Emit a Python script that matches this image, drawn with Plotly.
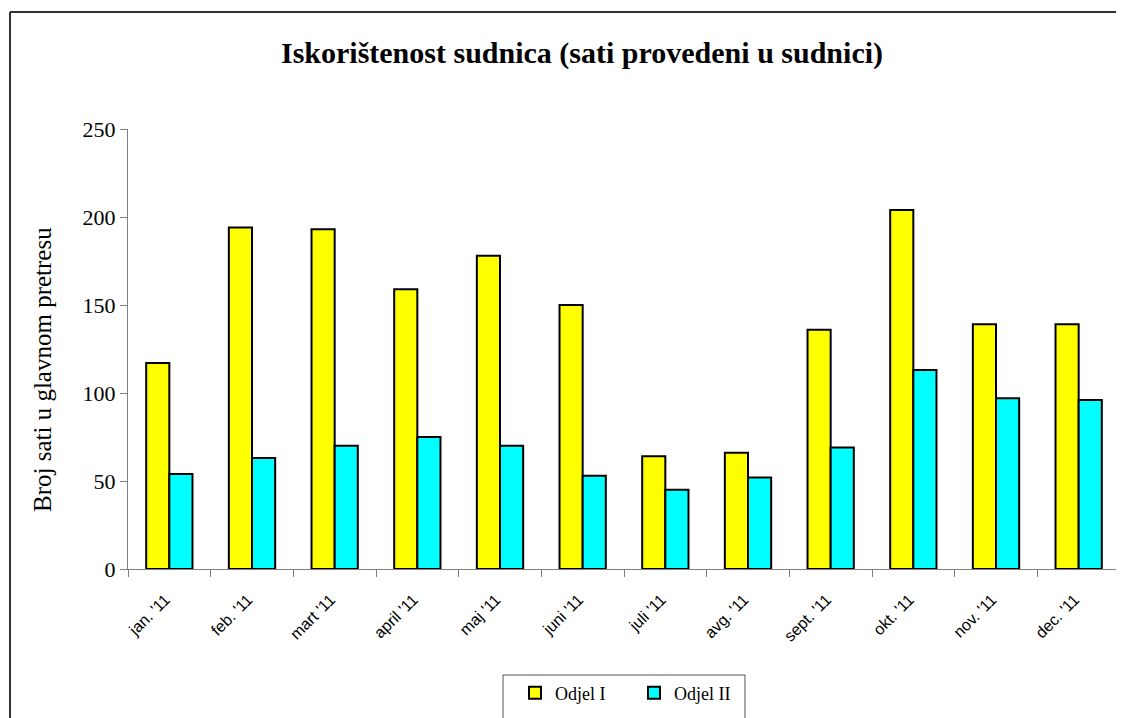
import plotly.graph_objects as go

months = ["jan. '11", "feb. '11", "mart '11", "april '11", "maj '11", "juni '11",
          "juli '11", "avg. '11", "sept. '11", "okt. '11", "nov. '11", "dec. '11"]
odjel_1 = [117, 194, 193, 159, 178, 150, 64, 66, 136, 204, 139, 139]
odjel_2 = [54, 63, 70, 75, 70, 53, 45, 52, 69, 113, 97, 96]
y_title = "Broj sati u glavnom pretresu"

OFF = 8  # page body margin
W, H = 1124 - OFF, 718 - OFF
L, R, T, B = 128 - OFF, 1120 - OFF, 129 - OFF, 569 - OFF
pw, ph = R - L, B - T


def px(x):
    return (x - OFF - L) / pw


def py(y):
    return (B - (y - OFF)) / ph


fig = go.Figure()
fig.add_trace(go.Bar(x=months, y=odjel_1, name="Odjel I",
                     marker=dict(color="#FFFF00", line=dict(color="black", width=2))))
fig.add_trace(go.Bar(x=months, y=odjel_2, name="Odjel II",
                     marker=dict(color="#00FFFF", line=dict(color="black", width=2))))

fig.update_layout(
    width=W, height=H,
    margin=dict(l=L, r=W - R, t=T, b=H - B, autoexpand=False),
    paper_bgcolor="white", plot_bgcolor="white",
    barmode="group", bargap=0.44, bargroupgap=0,
    title=dict(text="<b>Iskorištenost sudnica (sati provedeni u sudnici)</b>",
               x=(582 - OFF) / W, xanchor="center", y=1 - (52 - OFF) / H, yanchor="middle",
               font=dict(family="Liberation Serif", size=30, color="black")),
    font=dict(family="Liberation Serif", color="black"),
    showlegend=True,
    legend=dict(orientation="h", x=px(515), xanchor="left", y=py(693), yanchor="middle",
                bgcolor="rgba(0,0,0,0)", borderwidth=0,
                font=dict(family="Liberation Serif", size=18, color="black"),
                itemwidth=30, entrywidth=74, entrywidthmode="pixels",
                traceorder="normal"),
    xaxis=dict(showline=True, linecolor="#808080", linewidth=1, ticks="outside",
               tickson="boundaries", ticklen=7, tickcolor="#808080",
               tickangle=-45, ticklabelstandoff=14, ticklabelshift=-4,
               tickfont=dict(family="Liberation Sans", size=16, color="black"),
               showgrid=False, zeroline=False),
    yaxis=dict(range=[0, 250], dtick=50, showline=True, linecolor="#808080", linewidth=1,
               ticks="outside", ticklen=7, tickcolor="#808080",
               tickfont=dict(family="Liberation Serif", size=22, color="black"),
               showgrid=False, zeroline=False),
    annotations=[
        dict(text=y_title, xref="paper", yref="paper", x=px(42), y=py(370),
             xanchor="center", yanchor="middle", textangle=-90, showarrow=False,
             font=dict(family="Liberation Serif", size=25, color="black")),
    ],
    shapes=[
        dict(type="line", xref="paper", yref="paper", x0=px(10), x1=px(10), y0=py(12), y1=py(730),
             line=dict(color="#333333", width=2)),
        dict(type="line", xref="paper", yref="paper", x0=px(10), x1=px(1130), y0=py(12), y1=py(12),
             line=dict(color="#333333", width=2)),
        dict(type="rect", xref="paper", yref="paper", x0=px(503), x1=px(745), y0=py(675), y1=py(730),
             line=dict(color="#555555", width=1), fillcolor="rgba(0,0,0,0)"),
    ],
)

fig.write_html("out.html")
